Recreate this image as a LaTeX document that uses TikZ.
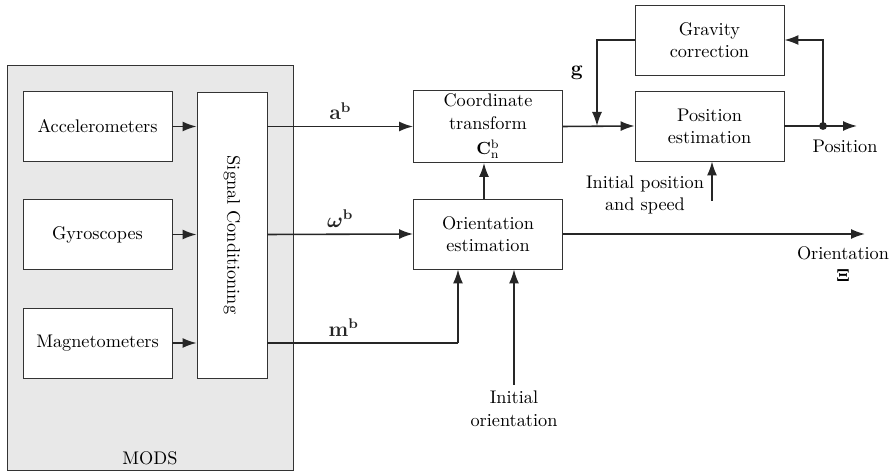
\documentclass[tikz,border=0pt]{standalone}
\usepackage{amsmath}
\usepackage{amssymb}
\usepackage{bm}
\usepackage{tikz}
\usetikzlibrary{arrows.meta}
\usetikzlibrary{positioning}
\usetikzlibrary{calc}
\tikzset{block/.style = {draw = black!80, fill = white, line width = 0.5pt, align = center,
    minimum width = 2.98cm, minimum height = 1.4cm, inner sep = 2pt}}
\tikzset{sensor/.style = {block, minimum width = 2.98cm}}
\tikzset{sig/.style = {line width = 0.9pt, black!85, -{Latex[length = 2.8mm, width = 2mm]}}}
\tikzset{wire/.style = {line width = 0.9pt, black!85}}
\tikzset{dot/.style = {fill, circle, black!85, inner sep = 0, minimum size = 4.5pt}}
\tikzset{vec/.style = {font = \large}}
\definecolor{modsgray}{rgb}{0.91, 0.91, 0.91}

\begin{document}
\begin{tikzpicture}[x = 0.02cm, y = -0.02cm, font = \fontsize{10.4}{12.6}\selectfont]
    \useasboundingbox (0, 0) rectangle (894, 475);
    % MODS unit
    \draw [fill = modsgray, draw = black!80, line width = 0.5pt] (7, 65) rectangle (293, 470);
    \node at (150, 458) {MODS};

    \node [sensor] (acc) at (97.5, 126.5) {Accelerometers};
    \node [sensor] (gyr) at (97.5, 234.5) {Gyroscopes};
    \node [sensor] (mag) at (97.5, 343) {Magnetometers};
    % rotated: south is the left side, north the right side
    \node [block, rotate = -90, minimum width = 5.72cm, minimum height = 1.4cm] (sc) at (232, 235) {Signal Conditioning};

    \foreach \s in {acc, gyr, mag} {
      \draw [sig] (\s.east) -- (\s.east -| sc.south);
    }

    % processing blocks
    \node [block] (ct) at (488, 126.5) {Coordinate\\transform\\[2pt]$\mathbf{C}_{\mathrm{n}}^{\mathrm{b}}$};
    \node [block] (oe) at (488, 234) {Orientation\\estimation};
    \node [block] (pe) at (709.5, 126) {Position\\estimation};
    \node [block] (gc) at (709.5, 40) {Gravity\\correction};

    \coordinate (mbend) at (458, 343);
    \coordinate (iori) at (514, 385);
    \coordinate (ipos) at (712, 201);
    \coordinate (gjoin) at (597, 126);
    \coordinate (pend) at (857, 126);
    \coordinate (oend) at (865, 234);
    \node [dot] (pdot) at (823, 126) {};

    \draw [sig] (acc.east -| sc.north) -- node [above, vec] {$\mathbf{a}^{\mathbf{b}}$} (ct.west);
    \draw [sig] (gyr.east -| sc.north) -- node [above, vec] {$\bm{\omega}^{\mathbf{b}}$} (oe.west);
    \draw [wire] (mag.east -| sc.north) -- node [above, vec, pos = 0.4] {$\mathbf{m}^{\mathbf{b}}$} (mbend);
    \draw [sig] (mbend) -- (mbend |- oe.south);
    \draw [sig] (iori) -- (iori |- oe.south);
    \node [align = center, below = 0pt of iori] {Initial\\orientation};
    \draw [sig] (oe.north -| 484, 0) -- (ct.south -| 484, 0);
    \draw [sig] (oe.east) -- (oend);
    \node [align = center] at (843, 264) {Orientation\\$\bm{\Xi}$};

    \draw [sig] (ct.east) -- (pe.west);
    \draw [wire] (gc.west) -| (597, 60);
    \draw [sig] (597, 60) -- (gjoin);
    \node [vec] at (577, 73) {$\mathbf{g}$};
    \draw [sig] (pe.east) -- (pend);
    \node at (845, 146) {Position};
    \draw [sig] (pdot.center) |- (gc.east);
    \draw [sig] (ipos) -- (ipos |- pe.south);
    \node [align = center] at (645, 195) {Initial position\\and speed};
  \end{tikzpicture}
\end{document}
